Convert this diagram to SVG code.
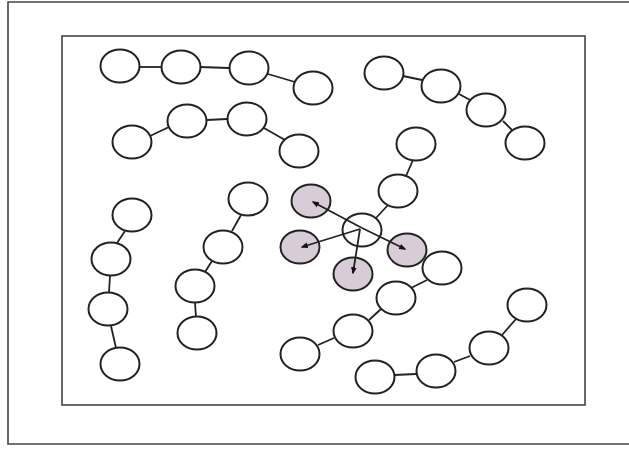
<svg xmlns="http://www.w3.org/2000/svg" width="629" height="450" viewBox="0 0 629 450">
  <style>
    .frame { fill: none; stroke: #444; stroke-width: 1.6; }
    .node ellipse { fill: #fff; stroke: #222; stroke-width: 2; }
    .node.hot ellipse { fill: #d8ccd8; }
    .edge { stroke: #222; stroke-width: 1.8; fill: none; }
    .arrow { stroke: #222; stroke-width: 1.8; fill: none; marker-end: url(#tip); }
  </style>
  <defs>
    <marker id="tip" viewBox="0 0 10 10" refX="8" refY="5" markerWidth="4" markerHeight="4" orient="auto" markerUnits="strokeWidth">
      <path d="M0,1 L10,5 L0,9 Z" fill="#111"/>
    </marker>
  </defs>

  <rect width="629" height="450" fill="#fff"/>

  <!-- outer page border (open on the right) -->
  <path class="frame" d="M629,2 H8 V444 H629"/>
  <!-- inner panel -->
  <rect class="frame" x="62" y="36" width="523" height="369"/>

  <g id="n-a1" class="node"><ellipse cx="120" cy="66" rx="19.5" ry="16.5"/></g>
  <g id="n-a2" class="node"><ellipse cx="181" cy="67" rx="19.5" ry="16.5"/></g>
  <g id="n-a3" class="node"><ellipse cx="249" cy="68" rx="19.5" ry="16.5"/></g>
  <g id="n-a4" class="node"><ellipse cx="313" cy="88" rx="19.5" ry="16.5"/></g>

  <g id="n-b1" class="node"><ellipse cx="132" cy="142" rx="19.5" ry="16.5"/></g>
  <g id="n-b2" class="node"><ellipse cx="187" cy="121" rx="19.5" ry="16.5"/></g>
  <g id="n-b3" class="node"><ellipse cx="247" cy="119" rx="19.5" ry="16.5"/></g>
  <g id="n-b4" class="node"><ellipse cx="299" cy="151" rx="19.5" ry="16.5"/></g>

  <g id="n-c1" class="node"><ellipse cx="384" cy="73" rx="19.5" ry="16.5"/></g>
  <g id="n-c2" class="node"><ellipse cx="441" cy="86" rx="19.5" ry="16.5"/></g>
  <g id="n-c3" class="node"><ellipse cx="486" cy="110" rx="19.5" ry="16.5"/></g>
  <g id="n-c4" class="node"><ellipse cx="525" cy="143" rx="19.5" ry="16.5"/></g>

  <g id="n-d1" class="node"><ellipse cx="132" cy="215" rx="19.5" ry="16.5"/></g>
  <g id="n-d2" class="node"><ellipse cx="111" cy="259" rx="19.5" ry="16.5"/></g>
  <g id="n-d3" class="node"><ellipse cx="108" cy="309" rx="19.5" ry="16.5"/></g>
  <g id="n-d4" class="node"><ellipse cx="120" cy="364" rx="19.5" ry="16.5"/></g>

  <g id="n-e1" class="node"><ellipse cx="248" cy="199" rx="19.5" ry="16.5"/></g>
  <g id="n-e2" class="node"><ellipse cx="223" cy="247" rx="19.5" ry="16.5"/></g>
  <g id="n-e3" class="node"><ellipse cx="195" cy="286" rx="19.5" ry="16.5"/></g>
  <g id="n-e4" class="node"><ellipse cx="197" cy="333" rx="19.5" ry="16.5"/></g>

  <g id="n-s0" class="node"><ellipse cx="416" cy="144" rx="19.5" ry="16.5"/></g>
  <g id="n-s1" class="node"><ellipse cx="398" cy="191" rx="19.5" ry="16.5"/></g>
  <g id="n-hub" class="node"><ellipse cx="362" cy="230" rx="19.5" ry="16.5"/></g>
  <g id="n-p1" class="node hot"><ellipse cx="311" cy="201" rx="19.5" ry="16.5"/></g>
  <g id="n-p2" class="node hot"><ellipse cx="300" cy="247" rx="19.5" ry="16.5"/></g>
  <g id="n-p3" class="node hot"><ellipse cx="353" cy="274" rx="19.5" ry="16.5"/></g>
  <g id="n-p4" class="node hot"><ellipse cx="407" cy="250" rx="19.5" ry="16.5"/></g>

  <g id="n-f1" class="node"><ellipse cx="442" cy="268" rx="19.5" ry="16.5"/></g>
  <g id="n-f2" class="node"><ellipse cx="396" cy="298" rx="19.5" ry="16.5"/></g>
  <g id="n-f3" class="node"><ellipse cx="353" cy="331" rx="19.5" ry="16.5"/></g>
  <g id="n-f4" class="node"><ellipse cx="300" cy="354" rx="19.5" ry="16.5"/></g>

  <g id="n-g1" class="node"><ellipse cx="527" cy="305" rx="19.5" ry="16.5"/></g>
  <g id="n-g2" class="node"><ellipse cx="489" cy="348" rx="19.5" ry="16.5"/></g>
  <g id="n-g3" class="node"><ellipse cx="436" cy="371" rx="19.5" ry="16.5"/></g>
  <g id="n-g4" class="node"><ellipse cx="375" cy="377" rx="19.5" ry="16.5"/></g>

  <!-- connectors sit above the nodes so the hub arrows cross into the shaded circles -->
  <g id="connectors">
    <!-- top chain -->
    <line class="edge" x1="140" y1="67" x2="161" y2="67"/>
    <line class="edge" x1="200" y1="67" x2="229" y2="68"/>
    <line class="edge" x1="268" y1="74" x2="295" y2="82"/>
    <!-- second chain -->
    <line class="edge" x1="150" y1="136" x2="169" y2="127"/>
    <line class="edge" x1="207" y1="120" x2="227" y2="119"/>
    <line class="edge" x1="264" y1="128" x2="285" y2="140"/>
    <!-- top right chain -->
    <line class="edge" x1="403" y1="76" x2="422" y2="80"/>
    <line class="edge" x1="459" y1="94" x2="470" y2="100"/>
    <line class="edge" x1="503" y1="121" x2="512" y2="130"/>
    <!-- left vertical chain -->
    <line class="edge" x1="125" y1="231" x2="117" y2="243"/>
    <line class="edge" x1="110" y1="276" x2="109" y2="292"/>
    <line class="edge" x1="111" y1="326" x2="116" y2="348"/>
    <!-- middle vertical chain -->
    <line class="edge" x1="241" y1="215" x2="232" y2="231"/>
    <line class="edge" x1="212" y1="261" x2="205" y2="272"/>
    <line class="edge" x1="195" y1="303" x2="196" y2="317"/>
    <!-- star hub links -->
    <line class="edge" x1="413" y1="160" x2="406" y2="176"/>
    <line class="edge" x1="388" y1="205" x2="376" y2="218"/>
    <line class="arrow" x1="362" y1="228" x2="313" y2="202"/>
    <line class="arrow" x1="362" y1="228" x2="405" y2="249"/>
    <line class="arrow" x1="360" y1="229" x2="302" y2="247"/>
    <line class="arrow" x1="360" y1="229" x2="353" y2="273"/>
    <!-- lower diagonal chain -->
    <line class="edge" x1="427" y1="280" x2="411" y2="288"/>
    <line class="edge" x1="381" y1="309" x2="369" y2="320"/>
    <line class="edge" x1="334" y1="338" x2="318" y2="345"/>
    <!-- bottom right chain -->
    <line class="edge" x1="516" y1="319" x2="502" y2="335"/>
    <line class="edge" x1="470" y1="356" x2="454" y2="362"/>
    <line class="edge" x1="416" y1="374" x2="394" y2="375"/>
  </g>
</svg>
